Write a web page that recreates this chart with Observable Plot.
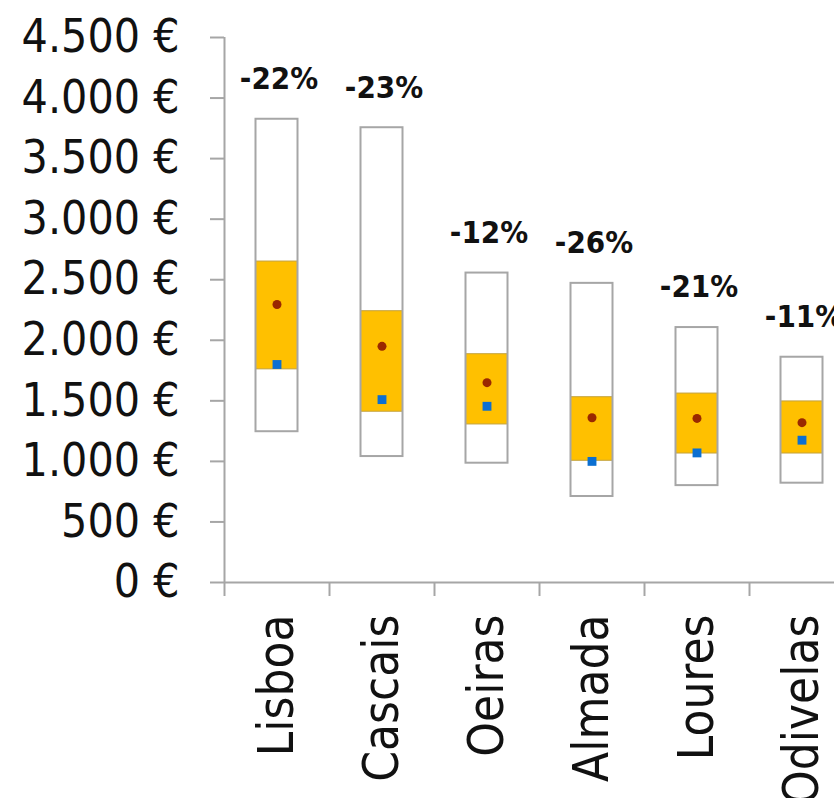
<!DOCTYPE html>
<html><head><meta charset="utf-8">
<script src="https://cdn.jsdelivr.net/npm/d3@7"></script>
<script src="https://cdn.jsdelivr.net/npm/@observablehq/plot@0.6"></script>
<style>
html,body{margin:0;padding:0;background:#fff;overflow:hidden;}
#chart svg{display:block;}
</style></head><body><div id="chart"></div>
<script>
// Data (values in €)
const cities = ["Lisboa", "Cascais", "Oeiras", "Almada", "Loures", "Odivelas"];
const maxVal = [3825, 3755, 2555, 2470, 2105, 1860];
const minVal = [1245, 1040, 985, 710, 800, 820];
const upperQ = [2650, 2240, 1885, 1530, 1560, 1495];
const lowerQ = [1760, 1410, 1305, 1005, 1065, 1065];
const avgVal = [2295, 1950, 1650, 1360, 1355, 1320];
const medVal = [1800, 1510, 1455, 1000, 1070, 1175];
const change = ["-22%", "-23%", "-12%", "-26%", "-21%", "-11%"];
const yTicks = [0, 500, 1000, 1500, 2000, 2500, 3000, 3500, 4000, 4500];

const data = cities.map((c, i) => ({
  city: c, max: maxVal[i], min: minVal[i], q3: upperQ[i], q1: lowerQ[i],
  avg: avgVal[i], med: medVal[i], label: change[i]
}));

const font = "'DejaVu Sans Condensed', 'DejaVu Sans', sans-serif";
const gray = "#a6a6a6";
const bw = 105;
const inset = (bw - 42) / 2;
const fmt = d => d3.format(",")(d).replace(/,/g, ".") + " €";

const chart = Plot.plot({
  width: 834,
  height: 798,
  marginTop: 37,
  marginBottom: 216,
  marginLeft: 224,
  marginRight: 0,
  style: {fontFamily: font, fontStretch: "condensed", background: "#fff", color: "#111"},
  x: {domain: cities, range: [224, 224 + bw * cities.length], padding: 0, label: null, axis: null},
  y: {domain: [0, 4500], label: null, axis: null},
  marks: [
    Plot.barY(data, {x: "city", y1: "min", y2: "max", fill: "white", insetLeft: inset, insetRight: inset}),
    Plot.barY(data, {x: "city", y1: "q1", y2: "q3", fill: "#FFC000", stroke: "#c4a23c", strokeWidth: 1, insetLeft: inset, insetRight: inset}),
    Plot.barY(data, {x: "city", y1: "min", y2: "max", fill: "none", stroke: gray, strokeWidth: 2, insetLeft: inset, insetRight: inset}),
    Plot.dot(data, {x: "city", y: "avg", r: 4.5, fill: "#9a2800"}),
    Plot.dot(data, {x: "city", y: "med", symbol: "square", r: 5, fill: "#0b6fd1"}),
    Plot.text(data, {x: "city", y: "max", text: "label", dy: -40, dx: 2, fontSize: 31, fontWeight: "bold", fill: "#111"}),
    Plot.ruleY([0], {stroke: gray, strokeWidth: 2}),
    Plot.ruleX([cities[0]], {dx: -bw / 2, stroke: gray, strokeWidth: 2}),
    Plot.axisY(yTicks, {tickSize: 14, tickPadding: 31, tickFormat: fmt, fontSize: 46, stroke: gray, strokeWidth: 2, fill: "#111"}),
    Plot.axisX({tickSize: 0, tickPadding: 32, tickRotate: -90, fontSize: 49, fill: "#111"}),
    Plot.axisX({tickSize: 14, tickFormat: () => "", dx: -bw / 2, stroke: gray, strokeWidth: 2})
  ]
});
document.getElementById("chart").appendChild(chart);
</script>
</body></html>
